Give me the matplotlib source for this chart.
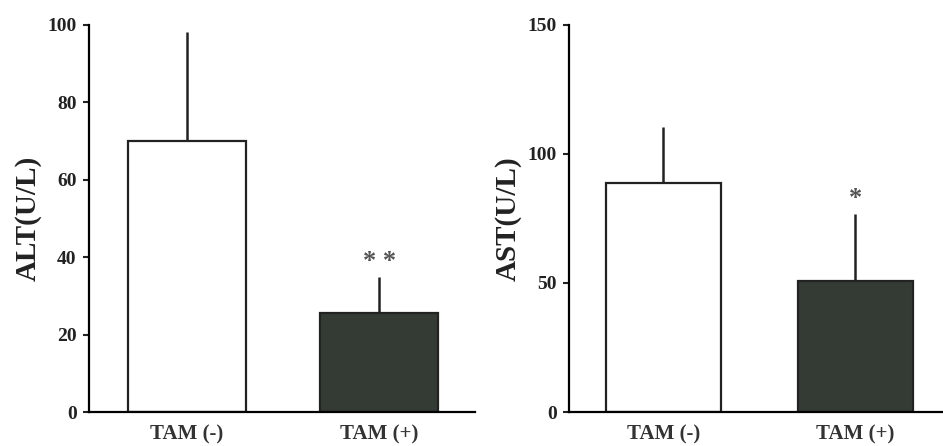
import matplotlib.pyplot as plt
import numpy as np

# Data
groups = ['TAM (-)', 'TAM (+)']
alt_mean = [70, 25.6]
alt_err = [28.2, 9.4]
ast_mean = [88.9, 50.6]
ast_err = [21.6, 26.3]
alt_marks = ['', '* *']
ast_marks = ['', '*']

plt.rcParams['font.family'] = ['Liberation Serif', 'DejaVu Serif']
plt.rcParams['font.weight'] = 'bold'

fig = plt.figure(figsize=(9.43, 4.46), dpi=100)
ax1 = fig.add_axes([0.0944, 0.0762, 0.4096, 0.868])
ax2 = fig.add_axes([0.6034, 0.0762, 0.3966, 0.868])

bar_colors = ['white', '#343b35']


def draw_panel(ax, means, errs, marks, ylabel, ymax, yticks, width, xlim):
    x = np.arange(len(groups))
    ax.bar(x, means, width=width, color=bar_colors, edgecolor='#222222',
           linewidth=1.6, zorder=2)
    # upper-only error bars
    ax.errorbar(x, means, yerr=[np.zeros(len(errs)), errs], fmt='none',
                ecolor='#222222', elinewidth=1.8, capsize=0, zorder=1)
    for xi, m, e, s in zip(x, means, errs, marks):
        if s:
            ax.text(xi, m + e + ymax * 0.01, s, ha='center', va='bottom',
                    fontsize=19, color='#555555')
    ax.set_ylim(0, ymax)
    ax.set_xlim(*xlim)
    ax.set_yticks(yticks)
    ax.set_xticks(x)
    ax.set_xticklabels(groups, fontsize=15, fontweight='bold', color='#333333')
    ax.tick_params(axis='x', length=0, pad=9)
    ax.tick_params(axis='y', direction='out', length=4, width=1.5,
                   labelsize=14, colors='#222222', pad=5)
    for lbl in ax.get_yticklabels():
        lbl.set_fontweight('bold')
    ax.spines['top'].set_visible(False)
    ax.spines['right'].set_visible(False)
    ax.spines['left'].set_linewidth(1.6)
    ax.spines['bottom'].set_linewidth(1.6)
    ax.set_ylabel(ylabel, fontsize=21, fontweight='bold', color='#222222',
                  labelpad=4)


draw_panel(ax1, alt_mean, alt_err, alt_marks, 'ALT(U/L)', 100,
           [0, 20, 40, 60, 80, 100], 0.615, (-0.51, 1.5))
draw_panel(ax2, ast_mean, ast_err, ast_marks, 'AST(U/L)', 150,
           [0, 50, 100, 150], 0.6, (-0.49, 1.456))

fig.savefig('out.png', dpi=100)
